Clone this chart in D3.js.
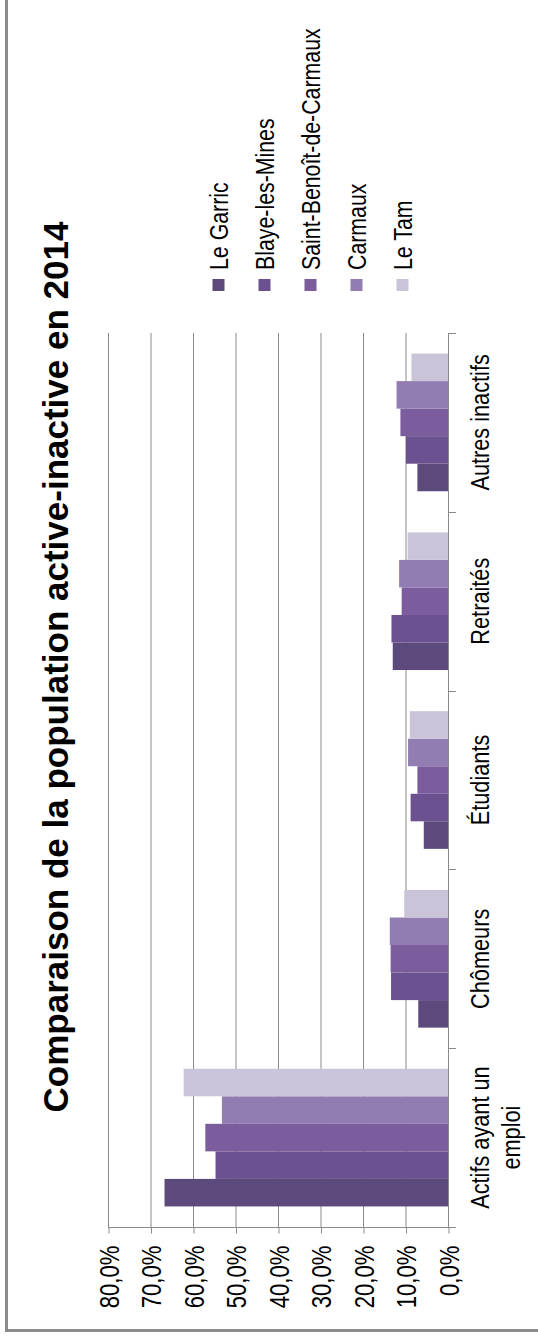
<!DOCTYPE html>
<html><head><meta charset="utf-8">
<script src="https://cdn.jsdelivr.net/npm/d3@7"></script>
<style>html,body{margin:0;padding:0;background:#fff;}svg{display:block;}</style>
</head><body>
<script>
// ---- data ----
const categories = ["Actifs ayant un emploi", "Chômeurs", "Étudiants", "Retraités", "Autres inactifs"];
const seriesNames = ["Le Garric", "Blaye-les-Mines", "Saint-Benoît-de-Carmaux", "Carmaux", "Le Tam"];
const leGarric = [66.7, 7.0, 5.7, 13.0, 7.2];
const blaye = [54.7, 13.4, 8.8, 13.3, 9.9];
const saintBenoit = [57.1, 13.5, 7.2, 10.9, 11.2];
const carmaux = [53.2, 13.7, 9.4, 11.5, 12.1];
const leTam = [62.2, 10.3, 9.0, 9.5, 8.6];
const tickValues = [0, 10, 20, 30, 40, 50, 60, 70, 80];
const title = "Comparaison de la population active-inactive en 2014";
const colors = ["#5c4a7d", "#6b5190", "#7b5d9e", "#917db1", "#cac4d9"];

const seriesValues = [leGarric, blaye, saintBenoit, carmaux, leTam];

// ---- layout ----
const W = 538, H = 1337;
const svg = d3.select("body").append("svg").attr("width", W).attr("height", H);
svg.append("rect").attr("width", W).attr("height", H).attr("fill", "#fff");

// font detection for narrow text
function measure(fam) {
  const t = svg.append("text").attr("font-family", fam).attr("font-size", 26).text("Saint-Benoît-de-Carmaux");
  const w = t.node().getComputedTextLength(); t.remove(); return w;
}
const wN = measure("'Liberation Sans Narrow'"), wR = measure("'Liberation Sans'");
const hasNarrow = wN < wR * 0.9;
const NF = hasNarrow ? "'Liberation Sans Narrow', 'Arial Narrow', sans-serif" : "'Liberation Sans', Arial, sans-serif";
const NS = hasNarrow ? "" : " scale(0.82,1)";

const x0 = 448, x80 = 108, yTop = 333, yBot = 1227;
const xScale = d3.scaleLinear().domain([0, 80]).range([x0, x80]);
const yBand = d3.scaleBand().domain(categories).range([yBot, yTop]).padding(0);
const step = yBand.bandwidth();
const pad = step * 0.115;
const yInner = d3.scaleBand().domain(seriesNames).range([step - pad, pad]).padding(0);

const grid = "#8a8a8a";

// frame (left + bottom)
svg.append("line").attr("x1", 6.5).attr("x2", 6.5).attr("y1", 0).attr("y2", 1331.5)
  .attr("stroke", "#8c8c8c").attr("stroke-width", 3);
svg.append("line").attr("x1", 5).attr("x2", W).attr("y1", 1330.5).attr("y2", 1330.5)
  .attr("stroke", "#8c8c8c").attr("stroke-width", 3);

// gridlines
svg.append("g").selectAll("line").data(tickValues.filter(v => v > 0)).join("line")
  .attr("x1", d => xScale(d) + 0.5).attr("x2", d => xScale(d) + 0.5)
  .attr("y1", yTop).attr("y2", yBot)
  .attr("stroke", grid).attr("stroke-width", 1);

// bars
const groups = svg.append("g").selectAll("g").data(categories).join("g")
  .attr("transform", c => `translate(0,${yBand(c)})`);
groups.selectAll("rect").data((c, ci) => seriesNames.map((s, si) => ({ s, si, v: seriesValues[si][ci] })))
  .join("rect")
  .attr("x", d => xScale(d.v)).attr("width", d => x0 - xScale(d.v))
  .attr("y", d => yInner(d.s)).attr("height", yInner.bandwidth())
  .attr("fill", d => colors[d.si]);

// value axis
const fr = d3.formatLocale({ decimal: ",", thousands: " ", grouping: [3], currency: ["", "€"] });
const fmt = v => fr.format(".1f")(v) + "%";
const xAxis = svg.append("g").attr("transform", `translate(0,${yBot + 0.5})`)
  .call(d3.axisBottom(xScale).tickValues(tickValues).tickSize(6).tickSizeOuter(0).tickFormat(fmt));
xAxis.select(".domain").attr("stroke", grid).attr("d", `M${x80},0H${x0 + 8}`);
xAxis.selectAll(".tick line").attr("stroke", grid).attr("transform", "translate(0.5,0)");
xAxis.selectAll(".tick text")
  .attr("font-family", NF).attr("font-size", 27).attr("fill", "#000")
  .attr("text-anchor", "end").attr("x", 0).attr("y", 0).attr("dy", "0.35em")
  .attr("transform", `translate(1,18) rotate(-90)${NS}`);

// category axis
svg.append("line").attr("x1", x0 + 0.5).attr("x2", x0 + 0.5).attr("y1", yTop).attr("y2", yBot)
  .attr("stroke", grid);
const bounds = categories.map(c => yBand(c)).concat([yBot]);
svg.append("g").selectAll("line").data(bounds).join("line")
  .attr("x1", x0).attr("x2", x0 + 8)
  .attr("y1", d => Math.round(d) + 0.5).attr("y2", d => Math.round(d) + 0.5)
  .attr("stroke", grid);

// category labels (wrapped)
function wrapLines(text, maxW) {
  const words = text.split(" ");
  const t = svg.append("text").attr("font-family", NF).attr("font-size", 26.5);
  const lines = []; let cur = "";
  words.forEach(w => {
    const test = cur ? cur + " " + w : w;
    t.text(test);
    let len = t.node().getComputedTextLength() * (hasNarrow ? 1 : 0.82);
    if (len > maxW && cur) { lines.push(cur); cur = w; } else cur = test;
  });
  lines.push(cur); t.remove(); return lines;
}
categories.forEach(c => {
  const cy = yBand(c) + step / 2;
  const lines = wrapLines(c, step * 0.9);
  lines.forEach((ln, i) => {
    svg.append("text").text(ln)
      .attr("font-family", NF).attr("font-size", 26.5).attr("fill", "#000")
      .attr("text-anchor", "middle")
      .attr("transform", `translate(${489 + i * 31},${cy}) rotate(-90)${NS}`);
  });
});

// title
svg.append("text").text(title)
  .attr("font-family", "'Liberation Sans', Arial, sans-serif").attr("font-weight", "bold")
  .attr("font-size", 35).attr("fill", "#000").attr("text-anchor", "middle")
  .attr("transform", `translate(68,667) rotate(-90)`);

// legend
const leg = svg.append("g").selectAll("g").data(seriesNames).join("g")
  .attr("transform", (d, i) => `translate(${228 + i * 46},0)`);
leg.append("rect").attr("x", -15.5).attr("y", 279).attr("width", 12).attr("height", 12)
  .attr("fill", (d, i) => colors[i]);
leg.append("text").text(d => d)
  .attr("font-family", NF).attr("font-size", 26).attr("fill", "#000")
  .attr("text-anchor", "start")
  .attr("transform", `translate(0,270) rotate(-90)${NS}`);
</script>
</body></html>
